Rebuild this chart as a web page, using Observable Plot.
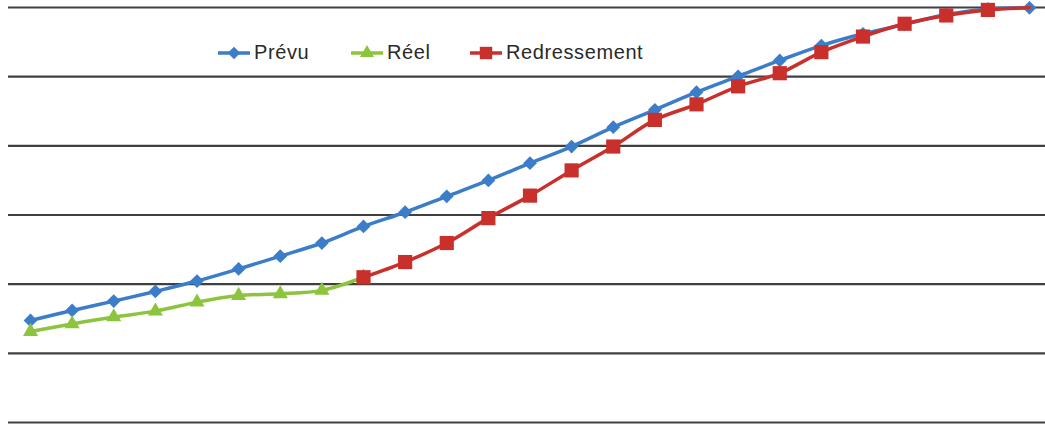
<!DOCTYPE html>
<html>
<head>
<meta charset="utf-8">
<script src="https://cdn.jsdelivr.net/npm/d3@7"></script>
<script src="https://cdn.jsdelivr.net/npm/@observablehq/plot@0.6"></script>
<style>
  html, body { margin: 0; padding: 0; background: #fff; }
  #chart { position: relative; width: 1045px; height: 428px; overflow: hidden; }
  .legend-item { position: absolute; top: 41px; display: flex; align-items: center; gap: 3px;
            font-family: "Liberation Sans", Arial, sans-serif; font-size: 20px; letter-spacing: 0.6px; color: #2a2a2a; }
  .legend-item svg { display: block; }
</style>
</head>
<body>
<div id="chart"></div>
<script>
// Categories (periods) — no labels shown on the original
const periods = [1,2,3,4,5,6,7,8,9,10,11,12,13,14,15,16,17,18,19,20,21,22,23,24,25];

// Series values (gridlines every 20 units)
const prevu = [29.5,32.4,35.1,37.9,40.9,44.4,48.1,51.9,56.7,60.8,65.4,70.0,75.0,79.8,85.4,90.4,95.5,100.1,104.7,109.0,112.4,115.1,118.0,119.6,119.9];
const reel = [26.3,28.5,30.5,32.2,34.8,36.7,37.2,38.2,42.0];
const redressementStart = 9;
const redressement = [42.0,46.4,51.9,59.1,65.6,72.9,79.8,87.5,92.0,97.2,101.0,107.1,111.6,115.3,117.7,119.3,119.9];

const gridValues = [0,20,40,60,80,100,120];

const seriesNames = ["Prévu", "Réel", "Redressement"];
const seriesColors = ["#3b7dc8", "#8cc43e", "#c9302c"];

const prevuData = prevu.map((v, i) => ({x: periods[i], y: v}));
const reelData = reel.map((v, i) => ({x: periods[i], y: v}));
const redData = redressement.map((v, i) => ({x: periods[i + redressementStart - 1], y: v}));
// last point of Redressement carries no marker in the original
const redMarkers = redData.slice(0, redData.length - 1);

const chart = Plot.plot({
  width: 1045,
  height: 428,
  marginLeft: 8,
  marginRight: 0,
  marginTop: 7,
  marginBottom: 6,
  x: {domain: [0.5, 25.5], range: [9.2, 1049.8], axis: null},
  y: {domain: [0, 120], axis: null},
  marks: [
    Plot.ruleY(gridValues, {stroke: "#404040", strokeWidth: 2.2}),
    Plot.line(prevuData, {x: "x", y: "y", stroke: seriesColors[0], strokeWidth: 3.5, curve: "catmull-rom"}),
    Plot.dot(prevuData, {x: "x", y: "y", symbol: "diamond2", r: 6.2, fill: seriesColors[0], stroke: "none"}),
    Plot.line(reelData, {x: "x", y: "y", stroke: seriesColors[1], strokeWidth: 3.5, curve: "catmull-rom"}),
    Plot.dot(reelData, {x: "x", y: "y", symbol: "triangle", r: 5.6, fill: seriesColors[1], stroke: "none"}),
    Plot.line(redData, {x: "x", y: "y", stroke: seriesColors[2], strokeWidth: 3.5, curve: "catmull-rom"}),
    Plot.dot(redMarkers, {x: "x", y: "y", symbol: "square", r: 8, fill: seriesColors[2], stroke: "none"})
  ]
});

const container = document.getElementById("chart");
container.appendChild(chart);

// Legend (inside plot area, as in the original)
const legendLeft = [217, 350, 469];
const symbols = [d3.symbolDiamond2, d3.symbolTriangle, d3.symbolSquare];
const sizes = [5.6, 5.2, 7];
seriesNames.forEach((name, i) => {
  const item = document.createElement("div");
  item.className = "legend-item";
  item.style.left = legendLeft[i] + "px";
  const svg = d3.create("svg").attr("width", 34).attr("height", 22);
  svg.append("line").attr("x1", 1).attr("x2", 33).attr("y1", 11).attr("y2", 11)
    .attr("stroke", seriesColors[i]).attr("stroke-width", 3.5);
  svg.append("path").attr("transform", "translate(17,11)")
    .attr("d", d3.symbol(symbols[i], sizes[i] * sizes[i] * Math.PI)())
    .attr("fill", seriesColors[i]);
  item.appendChild(svg.node());
  const label = document.createElement("span");
  label.textContent = name;
  item.appendChild(label);
  container.appendChild(item);
});
</script>
</body>
</html>
